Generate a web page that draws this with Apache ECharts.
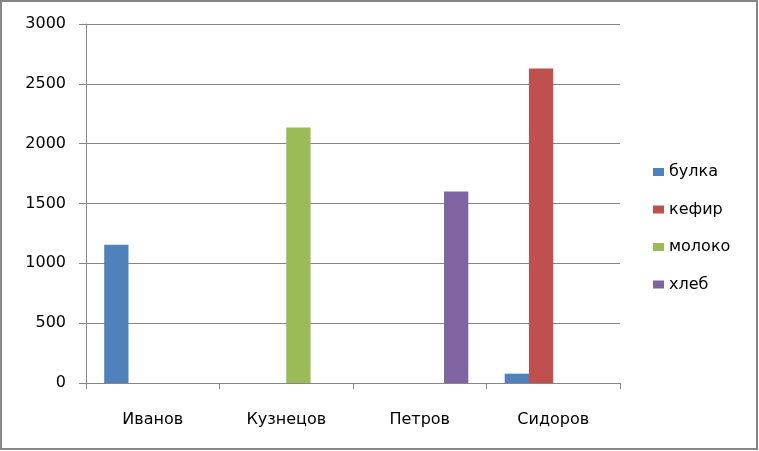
<!DOCTYPE html>
<html>
<head>
<meta charset="utf-8">
<script src="https://cdn.jsdelivr.net/npm/echarts@6/dist/echarts.min.js"></script>
<style>
html,body{margin:0;padding:0;background:#fff;}
#c{width:759px;height:451px;}
</style>
</head>
<body>
<div id="c"></div>
<script>
var categories = ['Иванов', 'Кузнецов', 'Петров', 'Сидоров'];
var seriesNames = ['булка', 'кефир', 'молоко', 'хлеб'];
var bulka = [1155, 0, 0, 78];
var kefir = [0, 0, 0, 2628];
var moloko = [0, 2135, 0, 0];
var hleb = [0, 0, 1600, 0];
var yTicks = { min: 0, max: 3000, interval: 500 };
var colors = ['#4F81BD', '#C0504D', '#9BBB59', '#8064A2'];
var values = [bulka, kefir, moloko, hleb];

var FONT = 'DejaVu Sans';
var chart = echarts.init(document.getElementById('c'), null, { renderer: 'canvas' });
chart.setOption({
  animation: false,
  backgroundColor: '#fff',
  color: colors,
  graphic: [{
    type: 'rect',
    shape: { x: 1, y: 1, width: 756, height: 448 },
    style: { fill: 'none', stroke: '#868686', lineWidth: 2 },
    silent: true
  }],
  grid: { left: 86, right: 139, top: 24, bottom: 68, containLabel: false },
  legend: {
    orient: 'vertical',
    left: 648,
    top: 159,
    itemWidth: 11,
    itemHeight: 8,
    itemGap: 21.5,
    icon: 'rect',
    textStyle: { fontFamily: FONT, fontSize: 16, color: '#000' },
    data: seriesNames
  },
  xAxis: {
    type: 'category',
    data: categories,
    axisLine: { lineStyle: { color: '#868686', width: 1 } },
    axisTick: { show: true, length: 6, alignWithLabel: false, lineStyle: { color: '#868686' } },
    axisLabel: { fontFamily: FONT, fontSize: 16, color: '#000', margin: 29 }
  },
  yAxis: {
    type: 'value',
    min: yTicks.min,
    max: yTicks.max,
    interval: yTicks.interval,
    axisLine: { show: true, lineStyle: { color: '#868686', width: 1 } },
    axisTick: { show: true, length: 7, lineStyle: { color: '#868686' } },
    splitLine: { lineStyle: { color: '#868686', width: 1 } },
    axisLabel: { fontFamily: FONT, fontSize: 16, color: '#000', margin: 20,
      formatter: function (v) { return String(v); } }
  },
  series: seriesNames.map(function (n, i) {
    return {
      name: n,
      type: 'bar',
      data: values[i],
      barGap: '0%',
      barCategoryGap: '27.27%',
      itemStyle: { color: colors[i] }
    };
  })
});
</script>
</body>
</html>
